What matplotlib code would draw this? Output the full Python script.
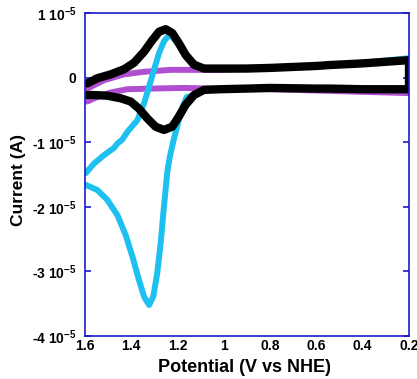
import matplotlib
matplotlib.use("Agg")
import matplotlib.pyplot as plt

plt.rcParams['font.family'] = ['Liberation Sans', 'DejaVu Sans']
plt.rcParams['font.weight'] = 'bold'
plt.rcParams['mathtext.default'] = 'regular'

# Purple CV (potential in V, current in 1e-5 A)
E_purple = [1.59, 1.518, 1.431, 1.345, 1.23, 1.115, 1.00, 0.80, 0.60, 0.40, 0.20,
            0.20, 0.40, 0.60, 0.80, 1.057, 1.172, 1.316, 1.417, 1.489, 1.547, 1.59]
I_purple = [-0.17, -0.04, 0.05, 0.09, 0.12, 0.12, 0.12, 0.15, 0.18, 0.22, 0.27,
            -0.24, -0.22, -0.20, -0.18, -0.17, -0.16, -0.17, -0.18, -0.23, -0.30, -0.37]

# Cyan CV, upper branch (left to right) and lower branch (right to left)
E_cyan = [1.597, 1.561, 1.518, 1.475, 1.460, 1.439, 1.417, 1.374, 1.345, 1.323, 1.302,
          1.280, 1.259, 1.237, 1.22, 1.194, 1.165, 1.129, 1.086, 1.014, 0.80, 0.60,
          0.40, 0.20,
          0.20, 0.40, 0.60, 0.80, 1.014, 1.086, 1.129, 1.16, 1.178, 1.192, 1.205, 1.218,
          1.232, 1.244, 1.259, 1.273, 1.288, 1.305, 1.323, 1.345, 1.367, 1.395, 1.424,
          1.460, 1.504, 1.547, 1.597]
I_cyan = [-1.48, -1.33, -1.20, -1.09, -1.02, -0.96, -0.84, -0.66, -0.40, -0.14, 0.12,
          0.38, 0.56, 0.66, 0.62, 0.50, 0.33, 0.19, 0.14, 0.14, 0.16, 0.19,
          0.23, 0.30,
          -0.18, -0.18, -0.17, -0.16, -0.18, -0.19, -0.27, -0.30, -0.45, -0.62, -0.80, -0.98,
          -1.20, -1.45, -2.00, -2.56, -3.03, -3.39, -3.52, -3.39, -3.13, -2.77, -2.44,
          -2.13, -1.89, -1.74, -1.66]
cyan_split = 24

# Black CV
E_black = [1.590, 1.547, 1.489, 1.431, 1.388, 1.345, 1.309, 1.280, 1.251, 1.223, 1.194,
           1.165, 1.129, 1.086, 1.014, 0.90, 0.80, 0.60, 0.54, 0.40, 0.20,
           0.20, 0.40, 0.54, 0.60, 0.80, 0.90, 1.014, 1.086, 1.129, 1.165, 1.194, 1.223,
           1.259, 1.295, 1.331, 1.367, 1.403, 1.446, 1.504, 1.561, 1.590]
I_black = [-0.09, -0.01, 0.05, 0.13, 0.23, 0.40, 0.58, 0.71, 0.75, 0.69, 0.53,
           0.35, 0.20, 0.14, 0.14, 0.14, 0.15, 0.18, 0.195, 0.22, 0.27,
           -0.18, -0.18, -0.17, -0.17, -0.16, -0.17, -0.18, -0.19, -0.27, -0.42, -0.60, -0.76,
           -0.81, -0.76, -0.63, -0.48, -0.37, -0.32, -0.28, -0.27, -0.27]

yticks = [1, 0, -1, -2, -3, -4]
ytick_labels = ['1 10$^{-5}$', '0', '-1 10$^{-5}$', '-2 10$^{-5}$', '-3 10$^{-5}$', '-4 10$^{-5}$']
xticks = [1.6, 1.4, 1.2, 1.0, 0.8, 0.6, 0.4, 0.2]
xtick_labels = ['1.6', '1.4', '1.2', '1', '0.8', '0.6', '0.4', '0.2']

fig = plt.figure(figsize=(4.17, 3.79), dpi=100)
ax = fig.add_axes([85/417, 43/379, 324/417, 323/379])

kw = dict(solid_capstyle='round', solid_joinstyle='round')
ax.plot(E_purple, I_purple, color='#b050d0', lw=4.3, **kw)
ax.plot(E_cyan[:cyan_split], I_cyan[:cyan_split], color='#1ec0f0', lw=4.3, **kw)
ax.plot(E_cyan[cyan_split:], I_cyan[cyan_split:], color='#1ec0f0', lw=4.3, **kw)
ax.plot(E_black, I_black, color='black', lw=6.0, **kw)

ax.set_xlim(1.6, 0.2)
ax.set_ylim(-4, 1)
ax.set_xticks(xticks)
ax.set_xticklabels(xtick_labels)
ax.set_yticks(yticks)
ax.set_yticklabels(ytick_labels)

blue = '#1a1acc'
for s in ax.spines.values():
    s.set_color(blue)
    s.set_linewidth(1.2)
ax.tick_params(axis='y', direction='in', length=4, width=1.2, color=blue,
               left=True, right=True, labelsize=10, pad=6)
ax.tick_params(axis='x', length=0, labelsize=10, pad=2)
for lab in ax.get_xticklabels() + ax.get_yticklabels():
    lab.set_fontweight('bold')

fig.text(244/417, 1 - 367/379, 'Potential (V vs NHE)', ha='center', va='center',
         fontsize=13, fontweight='bold')
fig.text(19/417, 1 - 180/379, 'Current (A)', ha='center', va='center', rotation=90,
         fontsize=12.5, fontweight='bold')

fig.savefig('out.png', dpi=100)
